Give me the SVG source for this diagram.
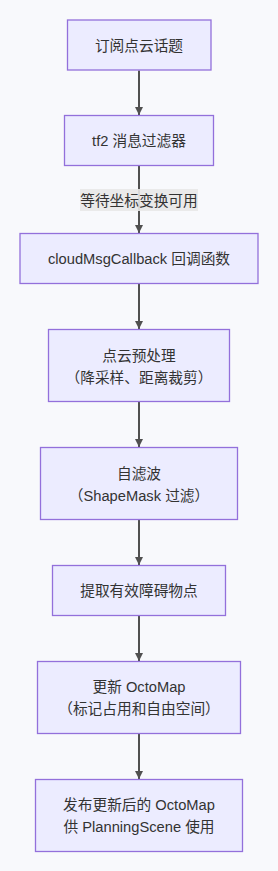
<svg xmlns="http://www.w3.org/2000/svg" width="278" height="871" viewBox="0 0 278 871">
<defs>
<style>
.node rect{fill:#ECECFF;stroke:#9370DB;stroke-width:1.3px}
text{font-family:"Liberation Sans","Noto Sans CJK SC",Arial,sans-serif;font-size:14.7px;fill:#333333;text-anchor:middle}
.edge{stroke:#333333;stroke-width:2px;fill:none;opacity:0.85}
</style>
<marker id="arrow" viewBox="0 0 10 10" refX="10" refY="5" markerUnits="userSpaceOnUse" markerWidth="8" markerHeight="8" orient="auto">
<path d="M0,0 L10,5 L0,10 z" fill="#333333"/>
</marker>
</defs>
<rect x="0" y="0" width="278" height="871" fill="#F8F9FC"/>
<g id="connectors">
<path class="edge" d="M139,70.5 L139,115" marker-end="url(#arrow)"/>
<path class="edge" d="M139,165.5 L139,233" marker-end="url(#arrow)"/>
<path class="edge" d="M139,283.5 L139,329" marker-end="url(#arrow)"/>
<path class="edge" d="M139,401.5 L139,447" marker-end="url(#arrow)"/>
<path class="edge" d="M139,519.5 L139,565" marker-end="url(#arrow)"/>
<path class="edge" d="M139,615.5 L139,661" marker-end="url(#arrow)"/>
<path class="edge" d="M139,733.5 L139,779" marker-end="url(#arrow)"/>
<g id="edge-label">
<rect x="80" y="189" width="118" height="22" fill="#E8E8E8" opacity="0.9"/>
<text x="139" y="205.5">等待坐标变换可用</text>
</g>
</g>
<g id="n1" class="node"><rect x="67.5" y="20" width="143.5" height="50"/><text x="139" y="50.5">订阅点云话题</text></g>
<g id="n2" class="node"><rect x="64.5" y="115.5" width="149" height="50"/><text x="139" y="146">tf2 消息过滤器</text></g>
<g id="n3" class="node"><rect x="20" y="233.5" width="238" height="50"/><text x="139" y="264">cloudMsgCallback 回调函数</text></g>
<g id="n4" class="node"><rect x="48.5" y="329.5" width="181" height="72"/><text x="139" y="360.5">点云预处理</text><text x="139" y="382.5">（降采样、距离裁剪）</text></g>
<g id="n5" class="node"><rect x="40.5" y="447.5" width="197" height="72"/><text x="139" y="478.5">自滤波</text><text x="139" y="500.5">（ShapeMask 过滤）</text></g>
<g id="n6" class="node"><rect x="52.5" y="565.5" width="173" height="50"/><text x="139" y="596">提取有效障碍物点</text></g>
<g id="n7" class="node"><rect x="37.5" y="661.5" width="203" height="72"/><text x="139" y="691.5">更新 OctoMap</text><text x="139" y="713.5">（标记占用和自由空间）</text></g>
<g id="n8" class="node"><rect x="35.5" y="779.5" width="207" height="72"/><text x="139" y="809.5">发布更新后的 OctoMap</text><text x="139" y="831.5">供 PlanningScene 使用</text></g>
</svg>
